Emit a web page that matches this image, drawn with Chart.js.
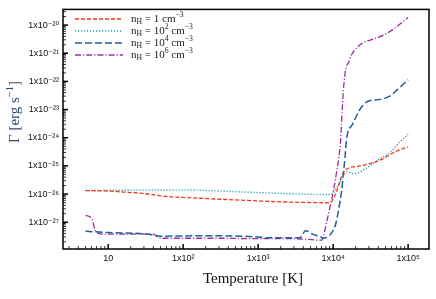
<!DOCTYPE html>
<html><head><meta charset="utf-8">
<script src="https://cdn.jsdelivr.net/npm/chart.js@4.4.1/dist/chart.umd.min.js"></script>
<style>html,body{margin:0;padding:0;background:#fff}#wrap{width:436px;height:299px;position:relative}</style>
</head><body><div id="wrap"><canvas id="c" width="436" height="299"></canvas></div>
<script>
// ---- data ----
const seriesLabels = ['n_H = 1 cm^{−3}', 'n_H = 10^2 cm^{−3}', 'n_H = 10^4 cm^{−3}', 'n_H = 10^6 cm^{−3}'];

const tempN1 = [5, 10, 16, 30, 60, 100, 230, 500, 1000, 2000, 5000, 9100, 10300, 11700, 13200, 15400, 23000, 40000, 71000, 100000];
const gammaN1 = [1.33e-26, 1.28e-26, 1.18e-26, 1.04e-26, 8.2e-27, 7.6e-27, 6.8e-27, 6.2e-27, 5.7e-27, 5.3e-27, 5.0e-27, 4.9e-27, 7.6e-27, 1.8e-26, 4.9e-26, 7.9e-26, 1.0e-25, 1.5e-25, 3.4e-25, 4.7e-25];

const tempN2 = [5, 10, 30, 100, 300, 1000, 3000, 9400, 11300, 13200, 15400, 19000, 27000, 42000, 57000, 71000, 100000];
const gammaN2 = [1.33e-26, 1.36e-26, 1.38e-26, 1.41e-26, 1.28e-26, 1.13e-26, 1.02e-26, 9.6e-27, 1.8e-26, 3.5e-26, 6.2e-26, 5.3e-26, 7.9e-26, 1.8e-25, 2.9e-25, 5.5e-25, 1.35e-24];

const tempN4 = [5, 10, 33, 50, 170, 1000, 1300, 3600, 4300, 5400, 6700, 7400, 9500, 10900, 12000, 13000, 13700, 14400, 15000, 15500, 18100, 23200, 28700, 42800, 57000, 72000, 100000];
const gammaN4 = [4.8e-28, 4.3e-28, 3.8e-28, 3.2e-28, 3.3e-28, 3.0e-28, 2.8e-28, 2.8e-28, 5.0e-28, 3.7e-28, 3.1e-28, 2.7e-28, 4.1e-28, 9.2e-28, 3.4e-27, 1.33e-26, 5.3e-26, 1.9e-25, 7.5e-25, 1.34e-24, 3.0e-24, 1.09e-23, 1.93e-23, 2.3e-23, 3.0e-23, 5.1e-23, 1.15e-22];

const tempN6 = [5, 6.1, 6.7, 8.2, 40, 49, 300, 1000, 3000, 7100, 7500, 8300, 9200, 10100, 11100, 11900, 12500, 12900, 13300, 13900, 14800, 16200, 17000, 21100, 26200, 34500, 47000, 63900, 100000];
const gammaN6 = [1.76e-27, 1.27e-27, 5.2e-28, 3.8e-28, 3.8e-28, 2.7e-28, 2.7e-28, 2.6e-28, 2.6e-28, 2.3e-28, 3.5e-28, 1.17e-27, 3.95e-27, 1.33e-26, 5.7e-26, 1.92e-25, 6.0e-25, 2.55e-24, 1.29e-23, 7.6e-23, 2.8e-22, 4.9e-22, 7.3e-22, 1.64e-21, 2.5e-21, 3.2e-21, 4.4e-21, 7.2e-21, 1.86e-20];

const xTickValues = [10, 100, 1000, 10000, 100000];
const xTickLabels = ['10', '1x10²', '1x10³', '1x10⁴', '1x10⁵'];
const yTickValues = [1e-27, 1e-26, 1e-25, 1e-24, 1e-23, 1e-22, 1e-21, 1e-20];
const yTickLabels = ['1x10⁻²⁷', '1x10⁻²⁶', '1x10⁻²⁵', '1x10⁻²⁴', '1x10⁻²³', '1x10⁻²²', '1x10⁻²¹', '1x10⁻²⁰'];

const xTitle = 'Temperature [K]';
const yTitle = 'Γ [erg s^{−1}]';

// ---- styling ----
const X_MIN = 2.5, X_MAX = 1.9e5, Y_MIN = 1.12e-28, Y_MAX = 3.6e-20;
const styles = [
  {color: '#f0351c', dash: [4, 2], width: 1.3},
  {color: '#25a2a6', dash: [1.2, 1.8], width: 1.4},
  {color: '#1f5f9c', dash: [7, 3], width: 1.5},
  {color: '#9a2daa', dash: [6, 2, 1.2, 2], width: 1.3}
];
const temps = [tempN1, tempN2, tempN4, tempN6];
const gammas = [gammaN1, gammaN2, gammaN4, gammaN6];

function minorTicks(min, max) {
  const out = [];
  for (let e = Math.floor(Math.log10(min)); e <= Math.ceil(Math.log10(max)); e++) {
    for (let m = 2; m <= 9; m++) {
      const v = m * Math.pow(10, e);
      if (v > min && v < max) out.push(v);
    }
  }
  return out;
}
const xMinor = minorTicks(X_MIN, X_MAX);
const yMinor = minorTicks(Y_MIN, Y_MAX);

function parseRich(s) {
  const runs = []; let i = 0, cur = '';
  while (i < s.length) {
    const ch = s[i];
    if (ch === '_' || ch === '^') {
      if (cur) { runs.push({t: cur, m: 0}); cur = ''; }
      let t;
      if (s[i + 1] === '{') { const j = s.indexOf('}', i + 2); t = s.slice(i + 2, j); i = j + 1; }
      else { t = s[i + 1]; i += 2; }
      runs.push({t, m: ch === '_' ? -1 : 1});
    } else { cur += ch; i++; }
  }
  if (cur) runs.push({t: cur, m: 0});
  return runs;
}
function richWidth(ctx, s, size, family) {
  let w = 0;
  for (const r of parseRich(s)) { ctx.font = (r.m ? size * 0.7 : size) + 'px ' + family; w += ctx.measureText(r.t).width; }
  return w;
}
function drawRich(ctx, s, x, y, size, family) {
  let cx = x;
  for (const r of parseRich(s)) {
    const fs = r.m ? size * 0.7 : size;
    ctx.font = fs + 'px ' + family;
    const dy = r.m === 1 ? -size * 0.4 : (r.m === -1 ? size * 0.25 : 0);
    ctx.fillText(r.t, cx, y + dy);
    cx += ctx.measureText(r.t).width;
  }
}

const SERIF = '"Liberation Serif", "DejaVu Serif", serif';

const decorPlugin = {
  id: 'decor',
  afterDatasetsDraw(chart) {
    const {ctx, chartArea: a, scales: {x, y}} = chart;
    ctx.save();
    ctx.strokeStyle = '#000';
    const tick = (x1, y1, x2, y2, w) => { ctx.lineWidth = w; ctx.beginPath(); ctx.moveTo(x1, y1); ctx.lineTo(x2, y2); ctx.stroke(); };
    xTickValues.forEach(v => { const p = x.getPixelForValue(v); tick(p, a.bottom, p, a.bottom - 5, 1.5); });
    xMinor.forEach(v => { const p = x.getPixelForValue(v); tick(p, a.bottom, p, a.bottom - 3, 0.8); });
    yTickValues.forEach(v => { const p = y.getPixelForValue(v); tick(a.left, p, a.left + 5, p, 1.5); });
    yMinor.forEach(v => { const p = y.getPixelForValue(v); tick(a.left, p, a.left + 3, p, 0.8); });
    ctx.lineWidth = 1.5;
    ctx.strokeRect(a.left, a.top, a.right - a.left, a.bottom - a.top);
    ctx.restore();
  },
  afterDraw(chart) {
    const {ctx} = chart;
    ctx.save();
    const rows = [19, 31, 43, 55];
    chart.data.datasets.forEach((ds, i) => {
      const yy = rows[i];
      ctx.strokeStyle = ds.borderColor; ctx.lineWidth = ds.borderWidth;
      ctx.setLineDash(ds.borderDash);
      ctx.beginPath(); ctx.moveTo(75, yy); ctx.lineTo(123, yy); ctx.stroke();
      ctx.setLineDash([]);
      ctx.fillStyle = '#222';
      ctx.textBaseline = 'alphabetic'; ctx.textAlign = 'left';
      drawRich(ctx, ds.label, 131, yy + 2.5, 11, SERIF);
    });
    ctx.fillStyle = '#111';
    const xs = 15;
    const xw = richWidth(ctx, xTitle, xs, SERIF);
    drawRich(ctx, xTitle, 253 - xw / 2, 283, xs, SERIF);
    ctx.fillStyle = '#2d4a6b';
    const yw = richWidth(ctx, yTitle, xs, SERIF);
    ctx.translate(19, 112);
    ctx.rotate(-Math.PI / 2);
    drawRich(ctx, yTitle, -yw / 2, 0, xs, SERIF);
    ctx.restore();
  }
};

const datasets = temps.map((t, i) => ({
  label: seriesLabels[i],
  data: t.map((v, k) => ({x: v, y: gammas[i][k]})),
  borderColor: styles[i].color,
  borderDash: styles[i].dash,
  borderWidth: styles[i].width,
  pointRadius: 0,
  fill: false,
  cubicInterpolationMode: 'monotone'
}));

const tickFont = {family: '"Liberation Sans", "DejaVu Sans", sans-serif', size: 9};

new Chart(document.getElementById('c'), {
  type: 'line',
  data: {datasets},
  options: {
    responsive: false,
    animation: false,
    devicePixelRatio: 1,
    layout: {padding: {top: 7, right: 7, left: 0, bottom: 0}},
    plugins: {legend: {display: false}, tooltip: {enabled: false}},
    scales: {
      x: {
        type: 'logarithmic', min: X_MIN, max: X_MAX, position: 'bottom',
        grid: {display: false, drawTicks: false}, border: {display: false},
        afterBuildTicks: s => { s.ticks = xTickValues.map(v => ({value: v})); },
        afterFit: s => { s.height = 50; },
        ticks: {
          autoSkip: false, maxRotation: 0, minRotation: 0, padding: 4, color: '#111', font: tickFont,
          callback: (v) => { const i = xTickValues.indexOf(v); return i >= 0 ? xTickLabels[i] : ''; }
        }
      },
      y: {
        type: 'logarithmic', min: Y_MIN, max: Y_MAX,
        grid: {display: false, drawTicks: false}, border: {display: false},
        afterBuildTicks: s => { s.ticks = yTickValues.map(v => ({value: v})); },
        afterFit: s => { s.width = 63; },
        ticks: {
          autoSkip: false, padding: 4, color: '#111', font: tickFont,
          callback: (v) => { const i = yTickValues.findIndex(t => Math.abs(Math.log10(t) - Math.log10(v)) < 1e-6); return i >= 0 ? yTickLabels[i] : ''; }
        }
      }
    }
  },
  plugins: [decorPlugin]
});
</script></body></html>
